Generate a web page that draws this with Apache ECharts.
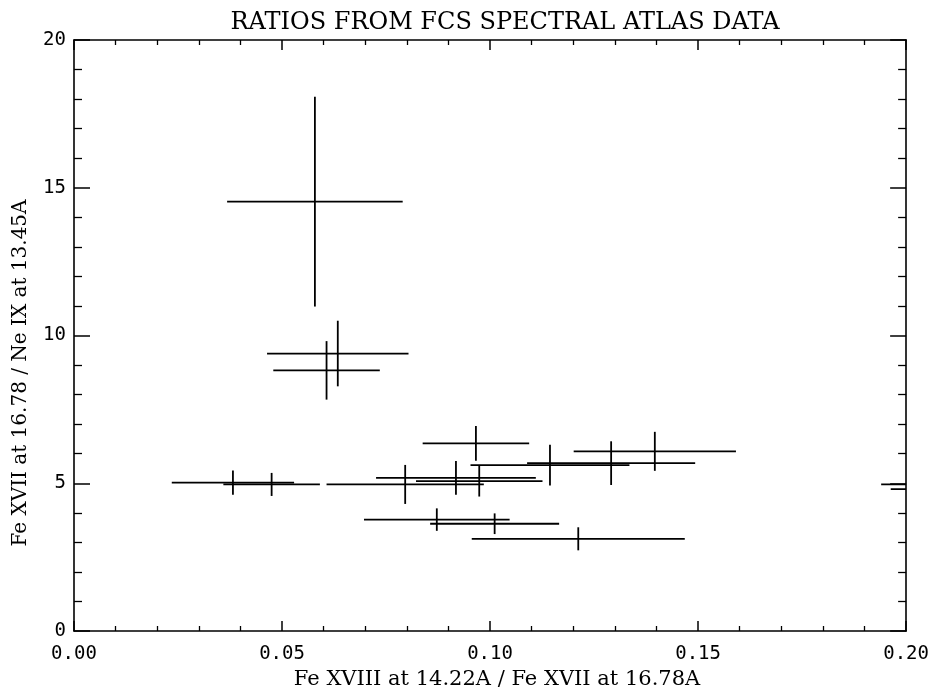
<!DOCTYPE html>
<html>
<head>
<meta charset="utf-8">
<title>Ratios from FCS spectral atlas data</title>
<script src="https://cdn.jsdelivr.net/npm/echarts@6/dist/echarts.min.js"></script>
<style>
  html, body { margin: 0; padding: 0; background: #fff; }
  #main { width: 932px; height: 696px; }
</style>
</head>
<body>
<div id="main"></div>
<script type="text/javascript">
// Fe XVIII 14.22A / Fe XVII 16.78A  (x) and its half error bar
var xRatio = [0.0579, 0.0634, 0.0607, 0.0382, 0.0475, 0.0796, 0.0918, 0.0974, 0.0966,
              0.1144, 0.1291, 0.1396, 0.0872, 0.1011, 0.1212, 0.2150, 0.2200];
var xErr   = [0.0211, 0.0170, 0.0128, 0.0147, 0.0116, 0.0189, 0.0192, 0.0152, 0.0128,
              0.0191, 0.0202, 0.0195, 0.0175, 0.0155, 0.0256, 0.0210, 0.0237];
// Fe XVII 16.78 / Ne IX 13.45A  (y) and its half error bar
var yRatio = [14.53, 9.39, 8.82, 5.02, 4.96, 4.96, 5.18, 5.07, 6.35,
              5.61, 5.68, 6.08, 3.77, 3.63, 3.12, 4.96, 4.80];
var yErr   = [3.55, 1.11, 0.99, 0.41, 0.39, 0.66, 0.57, 0.52, 0.59,
              0.69, 0.74, 0.66, 0.38, 0.35, 0.39, 0.50, 0.50];

var yTicks = [0, 5, 10, 15, 20];

var points = [];
for (var i = 0; i < xRatio.length; i++) {
    points.push([xRatio[i], yRatio[i], xErr[i], yErr[i]]);
}

// one cross per point: horizontal bar = x error, vertical bar = y error
function drawCross(params, api) {
    var x = api.value(0), y = api.value(1), ex = api.value(2), ey = api.value(3);
    var l = api.coord([x - ex, y]), r = api.coord([x + ex, y]);
    var t = api.coord([x, y + ey]), b = api.coord([x, y - ey]);
    var cs = params.coordSys;
    var st = { stroke: '#000', lineWidth: 1.8 };
    return {
        type: 'group',
        clipPath: { type: 'rect', shape: { x: cs.x, y: cs.y, width: cs.width, height: cs.height } },
        children: [
            { type: 'line', shape: { x1: l[0], y1: l[1], x2: r[0], y2: r[1] }, style: st },
            { type: 'line', shape: { x1: t[0], y1: t[1], x2: b[0], y2: b[1] }, style: st }
        ]
    };
}

var axisLine = { show: true, onZero: false, lineStyle: { color: '#000', width: 1.6 } };
var majorX = { inside: true, length: 10, lineStyle: { color: '#000', width: 1.5 } };
var minorX = { show: true, splitNumber: 5, length: 5, lineStyle: { color: '#000', width: 1.3 } };
var majorY = { inside: true, length: 16, lineStyle: { color: '#000', width: 1.5 } };
var minorY = { show: true, splitNumber: 5, length: 8, lineStyle: { color: '#000', width: 1.3 } };

var myChart = echarts.init(document.getElementById('main'));
var option = {
    backgroundColor: '#fff',
    animation: false,
    title: {
        text: 'RATIOS FROM FCS SPECTRAL ATLAS DATA',
        left: 500, top: 6, textAlign: 'center',
        textStyle: { fontFamily: 'DejaVu Serif', fontSize: 24, fontWeight: 'normal', color: '#000' }
    },
    graphic: [{
        type: 'text',
        x: 21, y: 373, rotation: Math.PI / 2,
        style: {
            text: 'Fe XVII at 16.78 / Ne IX at 13.45A',
            fontFamily: 'DejaVu Serif', fontSize: 20, fill: '#000',
            align: 'center', verticalAlign: 'middle'
        }
    }],
    grid: { left: 74, right: 23, top: 40, bottom: 65 },
    xAxis: [{
        type: 'value', min: 0, max: 0.2, interval: 0.05, position: 'bottom',
        name: 'Fe XVIII at 14.22A / Fe XVII at 16.78A',
        nameLocation: 'middle', nameGap: 37,
        nameTextStyle: { fontFamily: 'DejaVu Serif', fontSize: 21, color: '#000', padding: [0, 0, 0, 14] },
        axisLine: axisLine, axisTick: majorX, minorTick: minorX,
        splitLine: { show: false },
        axisLabel: {
            margin: 14, color: '#000', fontFamily: 'DejaVu Sans Mono', fontSize: 19,
            formatter: function (v) { return v.toFixed(2); }
        }
    }, {
        type: 'value', min: 0, max: 0.2, interval: 0.05, position: 'top',
        axisLine: axisLine, axisTick: majorX, minorTick: minorX,
        splitLine: { show: false },
        axisLabel: { show: false }
    }],
    yAxis: [{
        type: 'value', min: yTicks[0], max: yTicks[yTicks.length - 1], interval: 5, position: 'left',
        axisLine: axisLine, axisTick: majorY, minorTick: minorY,
        splitLine: { show: false },
        axisLabel: { margin: 8, color: '#000', fontFamily: 'DejaVu Sans Mono', fontSize: 19 }
    }, {
        type: 'value', min: yTicks[0], max: yTicks[yTicks.length - 1], interval: 5, position: 'right',
        axisLine: axisLine, axisTick: majorY, minorTick: minorY,
        splitLine: { show: false },
        axisLabel: { show: false }
    }],
    series: [{
        type: 'custom',
        xAxisIndex: 0, yAxisIndex: 0,
        clip: true,
        renderItem: drawCross,
        encode: { x: 0, y: 1 },
        data: points
    }]
};
myChart.setOption(option);
</script>
</body>
</html>
